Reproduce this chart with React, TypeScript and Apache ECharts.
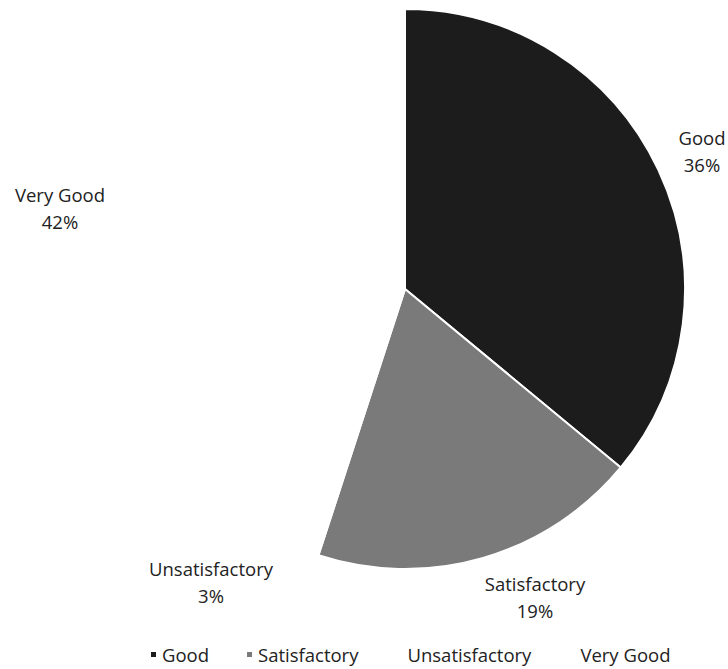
import React, { useEffect, useRef } from "react";
import * as echarts from "echarts";

const categories = ["Good", "Satisfactory", "Unsatisfactory", "Very Good"];
const percents = [36, 19, 3, 42];
const colors = ["#1c1c1c", "#7a7a7a", "#ffffff", "#ffffff"];
// label centres (layout only)
const labelCenters = [
  [702, 151],
  [535, 597],
  [211, 582],
  [60, 208],
];

export default function App() {
  const ref = useRef<HTMLDivElement>(null);
  useEffect(() => {
    if (!ref.current) return;
    const chart = echarts.init(ref.current, undefined, { renderer: "svg" });
    chart.setOption({
      animation: false,
      backgroundColor: "#ffffff",
      legend: {
        top: 640,
        left: 144,
        icon: "rect",
        itemWidth: 7,
        itemHeight: 7,
        itemGap: 36,
        data: categories,
        textStyle: { fontFamily: "Open Sans", fontSize: 18.5, color: "#222" },
      },
      series: [
        {
          type: "pie",
          center: [405, 289],
          radius: [0, 280],
          startAngle: 90,
          clockwise: true,
          avoidLabelOverlap: false,
          itemStyle: { borderColor: "#ffffff", borderWidth: 2 },
          label: {
            show: true,
            position: "outside",
            formatter: "{b}\n{c}%",
            fontFamily: "Open Sans",
            fontSize: 18.5,
            lineHeight: 27,
            color: "#222",
            align: "center",
          },
          labelLine: { show: false },
          labelLayout: (params: any) => {
            const p = labelCenters[params.dataIndex];
            return { x: p[0], y: p[1], align: "center", verticalAlign: "middle" };
          },
          emphasis: { disabled: true },
          data: categories.map((name, i) => ({
            name,
            value: percents[i],
            itemStyle: { color: colors[i] },
          })),
        },
      ],
    });
    return () => chart.dispose();
  }, []);
  return (
    <div
      ref={ref}
      style={{ position: "fixed", left: 0, top: 0, width: 728, height: 669 }}
    />
  );
}
